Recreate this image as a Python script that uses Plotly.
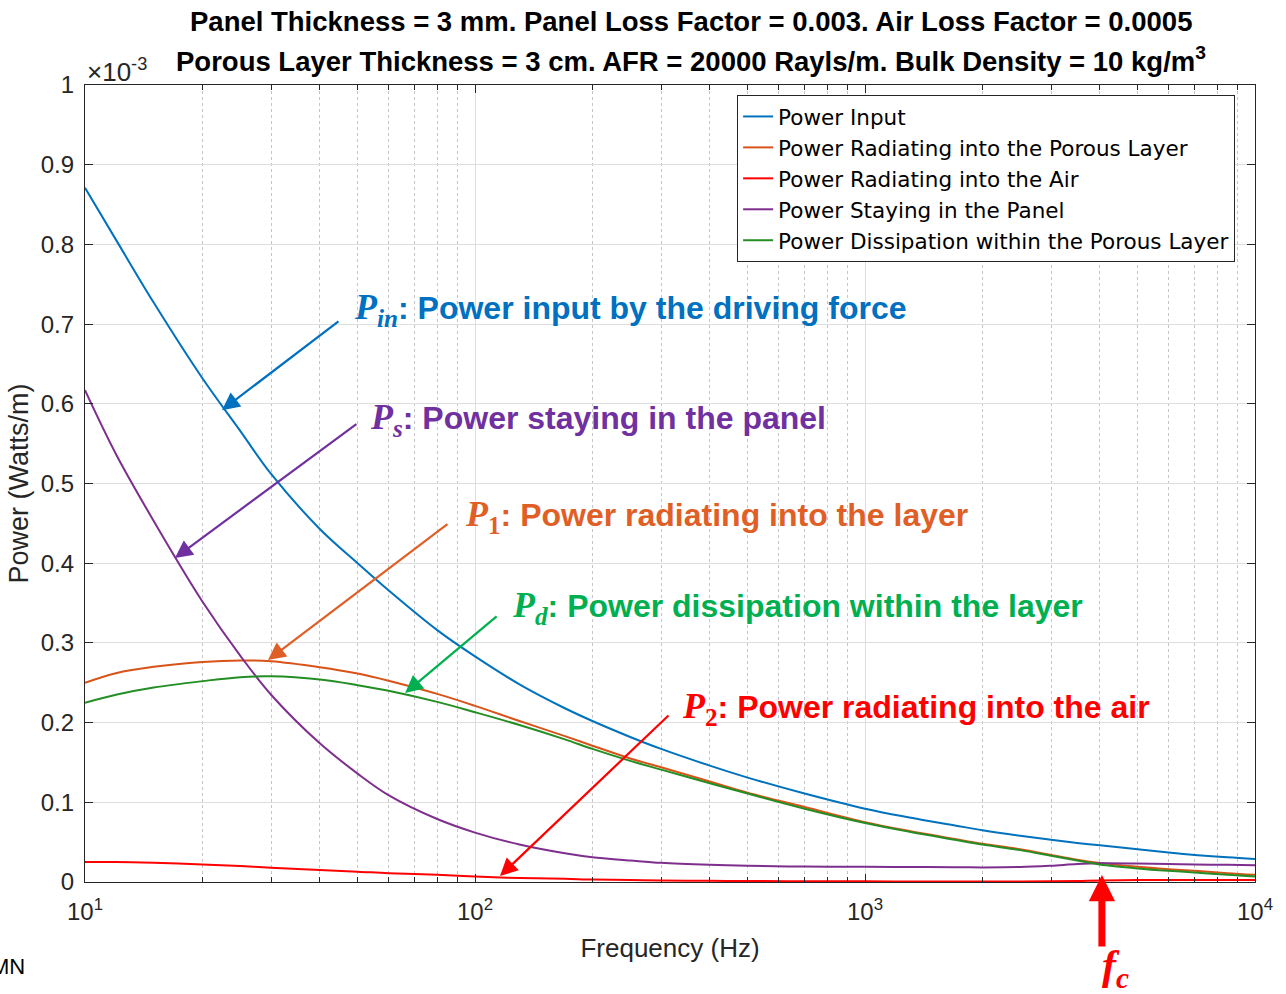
import numpy as np
import plotly.graph_objects as go

# Frequency grid (Hz)
freq = [10, 12, 15, 20, 25, 30, 40, 50, 60, 80, 100, 130, 170, 200, 250, 300,
        400, 500, 700, 1000, 1300, 1700, 2000, 2500, 3000, 3500, 4000, 5000,
        6000, 7000, 8500, 10000]

# Power values in units of 1e-3 W/m
p_input = [0.871, 0.806, 0.727, 0.632, 0.566, 0.512, 0.443, 0.400, 0.366, 0.316,
           0.283, 0.248, 0.218, 0.202, 0.182, 0.167, 0.146, 0.131, 0.111, 0.092,
           0.081, 0.071, 0.065, 0.058, 0.053, 0.049, 0.046, 0.041, 0.037, 0.034,
           0.031, 0.029]
p_layer = [0.250, 0.262, 0.270, 0.276, 0.278, 0.277, 0.2695, 0.2615, 0.2525, 0.236,
           0.221, 0.202, 0.183, 0.171, 0.155, 0.144, 0.126, 0.112, 0.094, 0.075,
           0.064, 0.054, 0.048, 0.041, 0.034, 0.028, 0.024, 0.019, 0.016, 0.014,
           0.011, 0.009]
p_air = [0.025, 0.025, 0.024, 0.022, 0.020, 0.018, 0.015, 0.013, 0.011, 0.009,
         0.007, 0.005, 0.004, 0.003, 0.0025, 0.002, 0.0015, 0.0012, 0.001, 0.0008,
         0.0007, 0.0006, 0.0006, 0.0006, 0.0008, 0.0012, 0.002, 0.0025, 0.0025,
         0.0025, 0.0025, 0.0025]
p_panel = [0.617, 0.537, 0.453, 0.352, 0.284, 0.235, 0.174, 0.136, 0.109, 0.079,
           0.062, 0.047, 0.036, 0.031, 0.027, 0.024, 0.0215, 0.0203, 0.0193, 0.019,
           0.0188, 0.0185, 0.0183, 0.0188, 0.0205, 0.0225, 0.0235, 0.0232, 0.0225,
           0.022, 0.0215, 0.021]
p_dissip = [0.225, 0.235, 0.244, 0.252, 0.257, 0.258, 0.254, 0.247, 0.240, 0.226,
            0.213, 0.197, 0.179, 0.167, 0.152, 0.141, 0.124, 0.111, 0.092, 0.074,
            0.063, 0.053, 0.047, 0.040, 0.033, 0.027, 0.022, 0.017, 0.014, 0.012,
            0.009, 0.007]

series_names = ["Power Input", "Power Radiating into the Porous Layer",
                "Power Radiating into the Air", "Power Staying in the Panel",
                "Power Dissipation within the Porous Layer"]
series_values = [p_input, p_layer, p_air, p_panel, p_dissip]
series_colors = ["#0072BD", "#D95319", "#FF0000", "#7E2F8E", "#238E23"]

y_ticks = [0, 0.1, 0.2, 0.3, 0.4, 0.5, 0.6, 0.7, 0.8, 0.9, 1.0]
y_ticklabels = ["0", "0.1", "0.2", "0.3", "0.4", "0.5", "0.6", "0.7", "0.8", "0.9", "1"]
x_ticks = [10, 100, 1000, 10000]
x_ticklabels = ["10<sup>1</sup>", "10<sup>2</sup>", "10<sup>3</sup>", "10<sup>4</sup>"]
x_minor = [m * d for d in (10, 100, 1000) for m in range(2, 10)]

f_c = 4050  # coincidence frequency (Hz)

# Callout labels: symbol, subscript, description, colour,
# text anchor (Hz, power), arrow tip (Hz, power), tail offset (px)
callouts = [
    ("P", "in", "Power input by the driving force", "#0070C0",
     (48.4, 0.718), (22.45, 0.592), (118, -90)),
    ("P", "s", "Power staying in the panel", "#7030A0",
     (53.2, 0.580), (17.0, 0.4065), (183, -135)),
    ("P", "1", "Power radiating into the layer", "#E05F26",
     (93.2, 0.458), (29.45, 0.2785), (181, -137)),
    ("P", "d", "Power dissipation within the layer", "#00B050",
     (122.9, 0.344), (66.2, 0.2371), (93, -78)),
    ("P", "2", "Power radiating into the air", "#FF0000",
     (335.5, 0.218), (115.9, 0.0075), (170, -162)),
]

AX = "#262626"
SANS = "Liberation Sans, Arial, Helvetica, sans-serif"
SERIF = "Liberation Serif, DejaVu Serif, serif"
LEGEND_FONT = "DejaVu Sans, Liberation Sans, sans-serif"


def symbol_markup(sym, sub):
    # letters are set in italic, digits upright (math style)
    sub_html = sub if sub.isdigit() else f"<i>{sub}</i>"
    return (f'<span style="font-family:{SERIF};font-size:36px"><b><i>{sym}</i></b>'
            f'<sub><b>{sub_html}</b></sub></span>')


fig = go.Figure()
for name, vals, col in zip(series_names, series_values, series_colors):
    fig.add_trace(go.Scatter(x=freq, y=vals, mode="lines", name=name,
                             line=dict(color=col, width=2, shape="spline", smoothing=1.0)))

annotations = []
for sym, sub, desc, col, (tf, tp), (hf, hp), (ax, ay) in callouts:
    annotations.append(dict(
        x=np.log10(hf), y=hp, xref="x", yref="y", text="", showarrow=True,
        ax=ax, ay=ay, arrowhead=2, arrowsize=1.6, arrowwidth=2.2, arrowcolor=col))
    annotations.append(dict(
        x=np.log10(tf), y=tp, xref="x", yref="y",
        text=symbol_markup(sym, sub) + f"<b>: {desc}</b>", showarrow=False,
        xanchor="left", yanchor="middle", font=dict(family=SANS, size=32, color=col)))

# Coincidence frequency marker
annotations.append(dict(
    x=np.log10(f_c), y=0.0088, xref="x", yref="y", text="", showarrow=True,
    ax=0, ay=73, arrowhead=2, arrowsize=0.75, arrowwidth=7, arrowcolor="#FF0000"))
annotations.append(dict(
    x=np.log10(f_c) + 0.035, y=-0.108, xref="x", yref="paper",
    text="<b><i>f</i></b><sub><b><i>c</i></b></sub>", showarrow=False,
    xanchor="center", yanchor="middle", font=dict(family=SERIF, size=42, color="#FF0000")))

# Titles and exponent label
annotations += [
    dict(x=0.518, y=1.0803, xref="paper", yref="paper", showarrow=False,
         text="<b>Panel Thickness = 3 mm. Panel Loss Factor = 0.003. Air Loss Factor = 0.0005</b>",
         xanchor="center", yanchor="middle", font=dict(family=SANS, size=27.5, color="#000000")),
    dict(x=0.518, y=1.0314, xref="paper", yref="paper", showarrow=False,
         text="<b>Porous Layer Thickness = 3 cm. AFR = 20000 Rayls/m. Bulk Density = 10 kg/m<sup>3</sup></b>",
         xanchor="center", yanchor="middle", font=dict(family=SANS, size=27.5, color="#000000")),
    dict(x=0.0, y=1.0188, xref="paper", yref="paper", showarrow=False,
         text="×10<sup>-3</sup>", xanchor="left", yanchor="middle",
         font=dict(family=SANS, size=26, color=AX)),
    dict(x=-0.0496, y=-0.1066, xref="paper", yref="paper", showarrow=False,
         text="MN", xanchor="right", yanchor="middle",
         font=dict(family=SANS, size=22, color="#000000")),
]

fig.update_layout(
    width=1286, height=994,
    margin=dict(l=85, r=31, t=85, b=112),
    paper_bgcolor="white", plot_bgcolor="white",
    font=dict(family=SANS, color=AX),
    showlegend=True,
    legend=dict(x=0.983, y=0.9875, xanchor="right", yanchor="top",
                bgcolor="white", bordercolor=AX, borderwidth=1,
                font=dict(family=LEGEND_FONT, size=21.5, color="#000000"),
                tracegroupgap=0),
    annotations=annotations,
)

fig.update_xaxes(
    type="log", range=[1, 4], tickvals=x_ticks, ticktext=x_ticklabels,
    ticks="inside", ticklen=8, tickwidth=1.2, tickcolor=AX,
    showline=True, linecolor=AX, linewidth=1.3, mirror="ticks",
    showgrid=True, gridcolor="#DEDEDE", gridwidth=1,
    tickfont=dict(family=SANS, size=24, color=AX), ticklabelstandoff=8,
    title=dict(text="Frequency (Hz)", font=dict(family=SANS, size=26, color=AX), standoff=14),
    minor=dict(tickvals=x_minor, ticks="inside", ticklen=5, tickcolor=AX, tickwidth=1,
               showgrid=True, gridcolor="#C4C4C4", griddash="dot", gridwidth=1),
    zeroline=False,
)
fig.update_yaxes(
    range=[0, 1], tickvals=y_ticks, ticktext=y_ticklabels,
    ticks="inside", ticklen=8, tickwidth=1.2, tickcolor=AX,
    showline=True, linecolor=AX, linewidth=1.3, mirror="ticks",
    showgrid=True, gridcolor="#DEDEDE", gridwidth=1,
    tickfont=dict(family=SANS, size=24, color=AX), ticklabelstandoff=5,
    title=dict(text="Power (Watts/m)", font=dict(family=SANS, size=27, color=AX), standoff=4),
    zeroline=False,
)

fig.write_html("out.html")
